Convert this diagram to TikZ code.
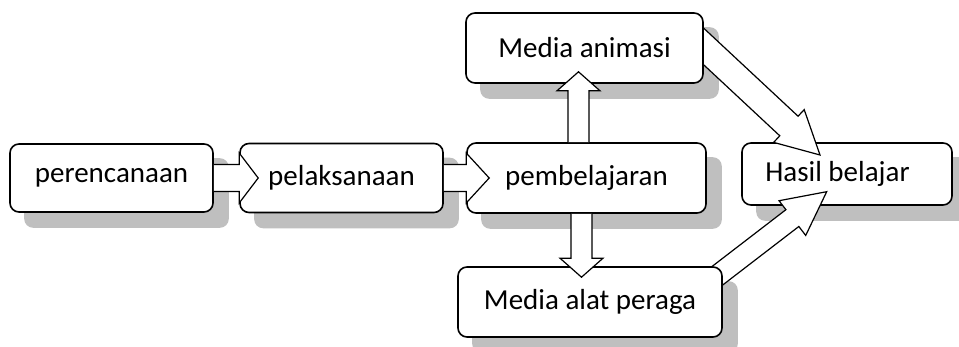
\documentclass[tikz,border=0pt]{standalone}
\usepackage{fontspec}
\setmainfont{Carlito}
\usetikzlibrary{calc}
\definecolor{shadowc}{HTML}{BFBFBF}
\pgfdeclarelayer{bg}
\pgfdeclarelayer{low}
\pgfdeclarelayer{mid}
\pgfdeclarelayer{top}
\pgfsetlayers{bg,low,mid,main,top}
\tikzset{
  box/.style={draw=black, line width=1.6pt, fill=white, rounded corners=9pt,
    inner sep=0pt, font=\fontsize{29}{34}\selectfont},
  arrline/.style={draw=black, line width=1.2pt, line join=miter},
}
\newcommand\blockarr[5]{%
  \coordinate (ba-h) at ($(#2)!#5!(#1)$);
  \fill[white] ($(#1)!#3!90:(#2)$) -- ($(ba-h)!#3!90:(#2)$) -- ($(ba-h)!#4!90:(#2)$) -- (#2)
     -- ($(ba-h)!#4!-90:(#2)$) -- ($(ba-h)!#3!-90:(#2)$) -- ($(#1)!#3!-90:(#2)$) -- cycle;
  \draw[arrline] ($(#1)!#3!90:(#2)$) -- ($(ba-h)!#3!90:(#2)$) -- ($(ba-h)!#4!90:(#2)$) -- (#2)
     -- ($(ba-h)!#4!-90:(#2)$) -- ($(ba-h)!#3!-90:(#2)$) -- ($(#1)!#3!-90:(#2)$);
}
\newcommand\boxshadow[1]{%
  \fill[shadowc, rounded corners=9pt] ([shift={(15pt,-15pt)}]#1.south west) rectangle ([shift={(15pt,-15pt)}]#1.north east);
}
\begin{document}
\begin{tikzpicture}[x=1pt, y=-1pt]
\useasboundingbox (0,0) rectangle (959,347);
% boxes
\node[box, minimum width=203pt, minimum height=68pt] (perenc) at (111.5,178) {perencanaan};
\node[box, minimum width=203pt, minimum height=69pt] (pelak) at (341.5,178) {pelaksanaan};
\node[box, minimum width=239pt, minimum height=70pt] (pemb) at (586.5,178) {pembelajaran};
\node[box, minimum width=237pt, minimum height=70pt] (anim) at (584.5,48) {Media animasi};
\node[box, minimum width=264pt, minimum height=70pt] (alat) at (590,302) {Media alat peraga};
\begin{pgfonlayer}{low}
\node[box, minimum width=210pt, minimum height=62pt] (hasil) at (847,174) {\hspace*{-19pt}Hasil belajar};
\end{pgfonlayer}
% shadows
\begin{pgfonlayer}{bg}
\boxshadow{perenc}
\boxshadow{pelak}
\boxshadow{pemb}
\boxshadow{anim}
\boxshadow{alat}
\boxshadow{hasil}
\end{pgfonlayer}
% diagonal arrows (below the media boxes, above Hasil belajar)
\begin{pgfonlayer}{mid}
\coordinate (d1s) at ([xshift=101.5pt,yshift=18pt]anim.center);
\coordinate (d1t) at ([xshift=-27pt,yshift=19pt]hasil.center);
\blockarr{d1s}{d1t}{13.4pt}{22.4pt}{42.5pt}
\coordinate (d2s) at ([xshift=107.5pt,yshift=11pt]alat.center);
\coordinate (d2t) at ([xshift=-20.3pt,yshift=-17.7pt]hasil.center);
\blockarr{d2s}{d2t}{10.6pt}{21.9pt}{43.3pt}
\end{pgfonlayer}
% straight arrows (on top)
\begin{pgfonlayer}{top}
\coordinate (h1s) at (perenc.east);
\coordinate (h1t) at ([xshift=19pt]pelak.west);
\blockarr{h1s}{h1t}{13.5pt}{25pt}{19pt}
\coordinate (h2s) at (pelak.east);
\coordinate (h2t) at ([xshift=23pt]pemb.west);
\blockarr{h2s}{h2t}{13.5pt}{25pt}{23pt}
\coordinate (v1s) at ([xshift=-8pt]pemb.north);
\coordinate (v1t) at ([xshift=-6pt,yshift=12pt]anim.south);
\blockarr{v1s}{v1t}{10.5pt}{21.5pt}{19pt}
\coordinate (v2s) at ([xshift=-5pt]pemb.south);
\coordinate (v2t) at ([xshift=-8.5pt,yshift=-11pt]alat.north);
\blockarr{v2s}{v2t}{10.5pt}{21.5pt}{19pt}
\end{pgfonlayer}
\end{tikzpicture}
\end{document}
